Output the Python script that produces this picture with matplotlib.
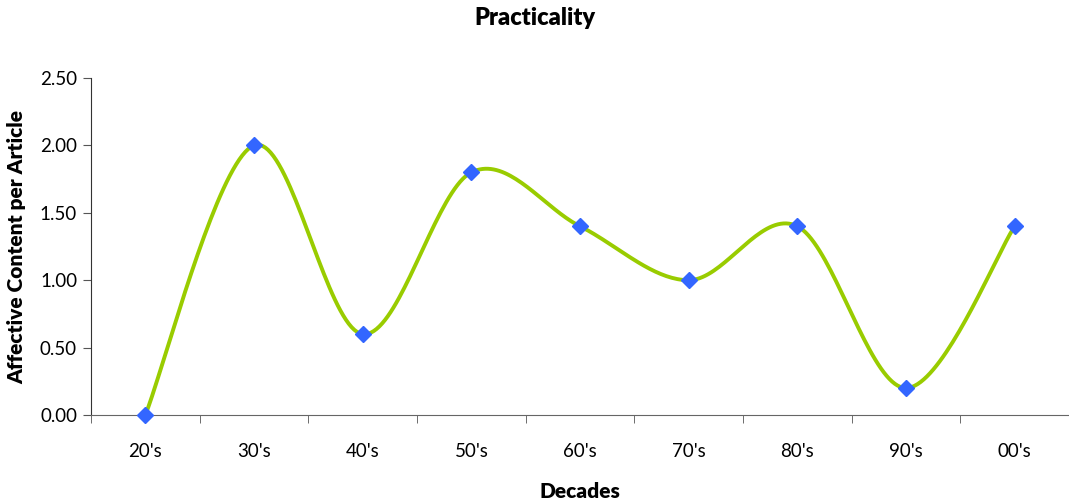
import numpy as np
import matplotlib
matplotlib.use("Agg")
import matplotlib.pyplot as plt

categories = ["20's", "30's", "40's", "50's", "60's", "70's", "80's", "90's", "00's"]
values = [0.0, 2.0, 0.6, 1.8, 1.4, 1.0, 1.4, 0.2, 1.4]
yticks = [0.0, 0.5, 1.0, 1.5, 2.0, 2.5]

plt.rcParams['font.family'] = ['Lato', 'DejaVu Sans']

def excel_smooth(x, y, n=40):
    x = np.asarray(x, float); y = np.asarray(y, float)
    px = np.concatenate([[x[0]], x, [x[-1]]])
    py = np.concatenate([[y[0]], y, [y[-1]]])
    xs, ys = [], []
    t = np.linspace(0, 1, n)
    for i in range(1, len(px) - 2):
        p0 = np.array([px[i], py[i]]); p3 = np.array([px[i+1], py[i+1]])
        p1 = p0 + (np.array([px[i+1], py[i+1]]) - np.array([px[i-1], py[i-1]])) / 6
        p2 = p3 - (np.array([px[i+2], py[i+2]]) - np.array([px[i], py[i]])) / 6
        b = ((1-t)**3)[:, None]*p0 + (3*(1-t)**2*t)[:, None]*p1 + (3*(1-t)*t**2)[:, None]*p2 + (t**3)[:, None]*p3
        xs.append(b[:, 0]); ys.append(b[:, 1])
    return np.concatenate(xs), np.concatenate(ys)

fig = plt.figure(figsize=(10.69, 5.01), dpi=100)
ax = fig.add_axes([91/1069, 1-415/501, 1-91/1069, (415-78)/501])

xi = np.arange(len(categories))
sx, sy = excel_smooth(xi, values)
ax.plot(sx, sy, color='#99CC00', lw=2.8, zorder=2)
ax.plot(xi, values, linestyle='none', marker='D', markersize=8.5, color='#3366FF', zorder=3, clip_on=False)

ax.set_xlim(-0.5, len(categories) - 0.5)
ax.set_ylim(0, 2.5)
ax.set_yticks(yticks)
ax.set_yticklabels([f"{v:.2f}" for v in yticks], fontsize=13.5)
ax.set_xticks(xi)
ax.set_xticklabels(categories, fontsize=13.5)
ax.set_xticks(np.arange(-0.5, len(categories) + 0.5, 1), minor=True)
ax.tick_params(axis='x', which='major', length=0, pad=20)
ax.tick_params(axis='x', which='minor', length=6, color='#555555', direction='out')
ax.tick_params(axis='y', length=6, direction='out', color='#555555', pad=4)

for s in ['top', 'right']:
    ax.spines[s].set_visible(False)
ax.spines['left'].set_color('#333333')
ax.spines['bottom'].set_color('#666666')

ax.set_xlabel('Decades', fontsize=15, fontweight='heavy', labelpad=16)
ax.set_ylabel('Affective Content per Article', fontsize=15, fontweight='heavy', labelpad=10)
fig.text(0.5, 1-18/501, 'Practicality', ha='center', va='center', fontsize=17, fontweight='heavy')

fig.savefig('out.png', dpi=100)
